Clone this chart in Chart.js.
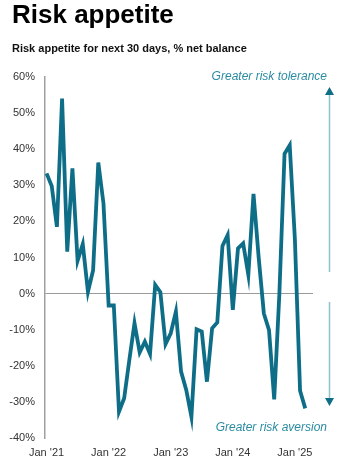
<!DOCTYPE html>
<html>
<head>
<meta charset="utf-8">
<script src="https://cdn.jsdelivr.net/npm/chart.js@4.4.1/dist/chart.umd.min.js"></script>
<style>
  html, body { margin: 0; padding: 0; background: #fff; }
  #wrap { width: 349px; height: 468px; position: relative; font-family: "Liberation Sans", Arial, sans-serif; }
  #wrap canvas { position: absolute; left: 0; top: 0; }
  .title { position: absolute; left: 12px; top: 1px; font-size: 26px; line-height: 1; font-weight: bold; color: #000; white-space: nowrap; }
  .subtitle { position: absolute; left: 12px; top: 43px; font-size: 11px; line-height: 1; font-weight: bold; color: #111; white-space: nowrap; }
</style>
</head>
<body>
<div id="wrap">
  <canvas id="riskChart" width="349" height="468"></canvas>
  <div class="title">Risk appetite</div>
  <div class="subtitle">Risk appetite for next 30 days, % net balance</div>
</div>
<script>
// monthly, Jan 2021 .. Mar 2025
var months = [
  'Jan 21','Feb 21','Mar 21','Apr 21','May 21','Jun 21','Jul 21','Aug 21','Sep 21','Oct 21','Nov 21','Dec 21',
  'Jan 22','Feb 22','Mar 22','Apr 22','May 22','Jun 22','Jul 22','Aug 22','Sep 22','Oct 22','Nov 22','Dec 22',
  'Jan 23','Feb 23','Mar 23','Apr 23','May 23','Jun 23','Jul 23','Aug 23','Sep 23','Oct 23','Nov 23','Dec 23',
  'Jan 24','Feb 24','Mar 24','Apr 24','May 24','Jun 24','Jul 24','Aug 24','Sep 24','Oct 24','Nov 24','Dec 24',
  'Jan 25','Feb 25','Mar 25'
];
var riskAppetite = [
  33.3, 29.8, 18.5, 54.0, 11.6, 34.7, 9.1, 13.7, 0.5, 6.5, 36.3, 25.0,
  -3.3, -3.3, -32.7, -29.0, -18.4, -8.2, -16.3, -13.3, -16.7, 2.4, 0.4, -14.0,
  -11.0, -5.0, -21.6, -26.7, -34.1, -9.9, -10.5, -24.4, -9.6, -8.0, 13.2, 16.2,
  -4.5, 12.5, 13.9, 5.2, 27.6, 10.0, -5.5, -10.1, -29.3, 0.0, 38.7, 41.1,
  15.0, -26.9, -31.8
];
var xTickPos = [0, 12, 24, 36, 48];
var xTickLabels = ["Jan '21", "Jan '22", "Jan '23", "Jan '24", "Jan '25"];
var yTicks = [-40, -30, -20, -10, 0, 10, 20, 30, 40, 50, 60];

var points = riskAppetite.map(function (v, i) { return { x: i, y: v }; });

var teal = '#0f6e87';
var noteColor = '#2b8ba3';

var annotations = {
  id: 'annotations',
  afterDraw: function (chart) {
    var c = chart.ctx;
    c.save();
    c.font = 'italic 12px "Liberation Sans", Arial, sans-serif';
    c.fillStyle = noteColor;
    c.textAlign = 'right';
    c.textBaseline = 'middle';
    c.fillText('Greater risk tolerance', 327, 77);
    c.fillText('Greater risk aversion', 327, 428);

    var ax = 329.5;
    c.strokeStyle = '#8cc3cf';
    c.lineWidth = 1.5;
    c.beginPath();
    c.moveTo(ax, 94); c.lineTo(ax, 272);
    c.moveTo(ax, 302); c.lineTo(ax, 399);
    c.stroke();

    c.fillStyle = teal;
    c.beginPath();
    c.moveTo(ax, 87); c.lineTo(ax - 4.5, 95); c.lineTo(ax + 4.5, 95);
    c.closePath(); c.fill();
    c.beginPath();
    c.moveTo(ax, 406); c.lineTo(ax - 4.5, 398); c.lineTo(ax + 4.5, 398);
    c.closePath(); c.fill();
    c.restore();
  }
};

var ctx = document.getElementById('riskChart').getContext('2d');
var riskChart = new Chart(ctx, {
  type: 'line',
  data: {
    datasets: [{
      label: 'Risk appetite',
      data: points,
      borderColor: teal,
      borderWidth: 3.8,
      pointRadius: 0,
      tension: 0,
      fill: false
    }]
  },
  options: {
    responsive: false,
    animation: false,
    layout: { padding: { left: 0, right: 36, top: 77, bottom: 0 } },
    plugins: {
      legend: { display: false },
      tooltip: { enabled: false }
    },
    scales: {
      x: {
        type: 'linear',
        min: -0.3,
        max: 51.5,
        afterBuildTicks: function (scale) {
          scale.ticks = xTickPos.map(function (v) { return { value: v }; });
        },
        afterFit: function (scale) { scale.height = 30; },
        grid: { display: false, drawTicks: false },
        border: { display: false },
        ticks: {
          padding: 8,
          maxRotation: 0,
          autoSkip: false,
          color: '#333',
          font: { family: '"Liberation Sans", Arial, sans-serif', size: 11 },
          callback: function (v) {
            var i = xTickPos.indexOf(v);
            return i >= 0 ? xTickLabels[i] : '';
          }
        }
      },
      y: {
        min: -40,
        max: 60,
        afterBuildTicks: function (scale) {
          scale.ticks = yTicks.map(function (v) { return { value: v }; });
        },
        afterFit: function (scale) { scale.width = 45; },
        grid: {
          drawTicks: false,
          color: function (c) { return c.tick && c.tick.value === 0 ? '#9a9a9a' : 'rgba(0,0,0,0)'; },
          lineWidth: 1
        },
        border: { display: true, color: '#a0a0a0', width: 1.5 },
        ticks: {
          padding: 10,
          color: '#333',
          font: { family: '"Liberation Sans", Arial, sans-serif', size: 11 },
          callback: function (v) { return v + '%'; }
        }
      }
    }
  },
  plugins: [annotations]
});
</script>
</body>
</html>
